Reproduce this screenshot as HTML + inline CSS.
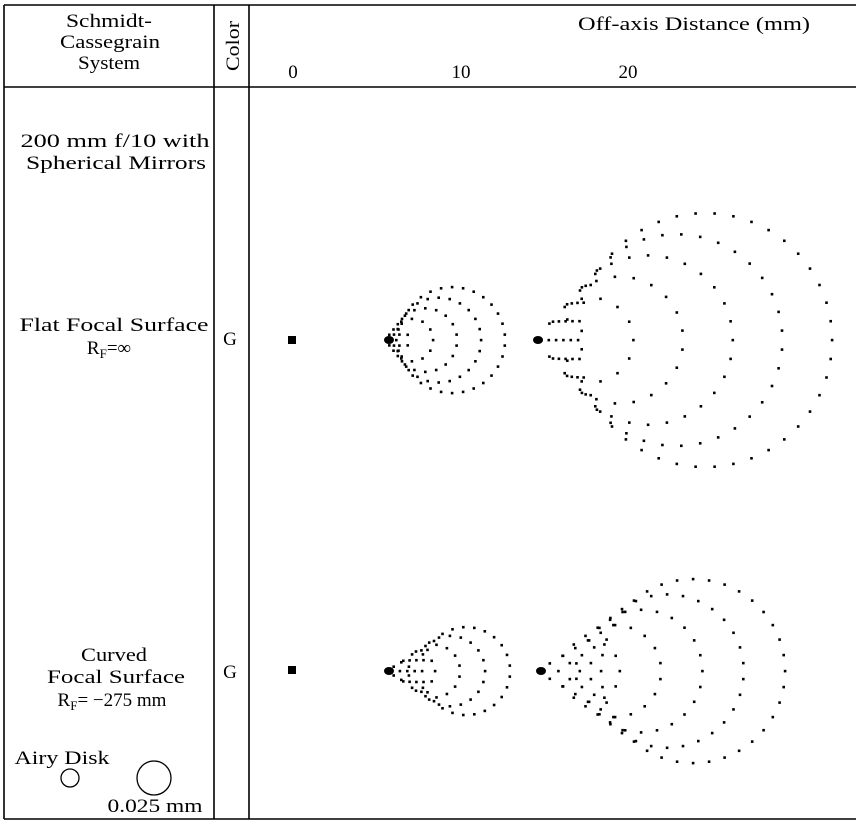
<!DOCTYPE html>
<html><head><meta charset="utf-8"><style>
body{margin:0;background:#fff;}
svg text{font-family:"Liberation Serif",serif;fill:#000;}
</style></head><body>
<svg id="s" width="856" height="821" xmlns="http://www.w3.org/2000/svg">
<g stroke="#000" stroke-width="1.6" fill="none">
<line x1="4" y1="5" x2="856" y2="5"/>
<line x1="4" y1="819" x2="856" y2="819"/>
<line x1="4" y1="5" x2="4" y2="819"/>
<line x1="214" y1="5" x2="214" y2="819"/>
<line x1="249" y1="5" x2="249" y2="819"/>
<line x1="4" y1="87" x2="856" y2="87"/>
<circle cx="70" cy="778" r="9" stroke-width="1.3"/>
<circle cx="154" cy="778" r="17" stroke-width="1.3"/>
</g>
<g font-size="19" text-anchor="middle" lengthAdjust="spacingAndGlyphs">
<text x="109" y="27" textLength="86" lengthAdjust="spacingAndGlyphs">Schmidt-</text>
<text x="110" y="48" textLength="100" lengthAdjust="spacingAndGlyphs">Cassegrain</text>
<text x="109" y="69" textLength="62" lengthAdjust="spacingAndGlyphs">System</text>
<text transform="translate(239,46) rotate(-90)" textLength="50" lengthAdjust="spacingAndGlyphs">Color</text>
<text x="694" y="30" textLength="232" lengthAdjust="spacingAndGlyphs">Off-axis Distance (mm)</text>
<text x="293" y="78">0</text>
<text x="461" y="78">10</text>
<text x="628" y="78">20</text>
<text x="115" y="147" textLength="189" lengthAdjust="spacingAndGlyphs">200 mm f/10  with</text>
<text x="116" y="169" textLength="180" lengthAdjust="spacingAndGlyphs">Spherical Mirrors</text>
<text x="114" y="331" textLength="189" lengthAdjust="spacingAndGlyphs">Flat Focal Surface</text>
<text x="109" y="354">R<tspan font-size="13" dy="4">F</tspan><tspan dy="-4">=∞</tspan></text>
<text x="114" y="661" textLength="66" lengthAdjust="spacingAndGlyphs">Curved</text>
<text x="116" y="683" textLength="138" lengthAdjust="spacingAndGlyphs">Focal Surface</text>
<text x="112" y="706">R<tspan font-size="13" dy="4">F</tspan><tspan dy="-4">= −275 mm</tspan></text>
<text x="230" y="345">G</text>
<text x="230" y="678">G</text>
<text x="62" y="764" textLength="95" lengthAdjust="spacingAndGlyphs">Airy Disk</text>
<text x="155" y="812" textLength="95" lengthAdjust="spacingAndGlyphs">0.025 mm</text>
</g>
<rect x="288" y="336" width="8" height="8" fill="#000"/>
<rect x="288" y="666" width="8" height="8" fill="#000"/>
<g id="d" fill="#000"></g>
</svg>
<script>
var g=document.getElementById('d'),h='';
function pat(ax,ay,cx,R,n,sp){
 for(var i=1;i<=n;i++){var f=i/n, r=R*f, c=ax+(cx-ax)*f;
  var m=Math.max(6,Math.round(2*Math.PI*r/sp));
  for(var k=0;k<m;k++){var a=2*Math.PI*(k+0.5*(i%2))/m; var x=c+r*Math.cos(a),y=ay+r*Math.sin(a);
   if(x<ax)continue; h+='<rect x="'+(x-1.2).toFixed(1)+'" y="'+(y-1.2).toFixed(1)+'" width="2.6" height="2.6"/>';}}
 h+='<ellipse cx="'+(ax+4)+'" cy="'+ay+'" rx="5" ry="4"/>';
}
pat(385,340,452,53,5,11);
pat(534,340,705,127,6,19);
pat(385,671,466,44,5,11);
pat(537,671,693,92,6,16);
g.innerHTML=h;
</script>
</body></html>
